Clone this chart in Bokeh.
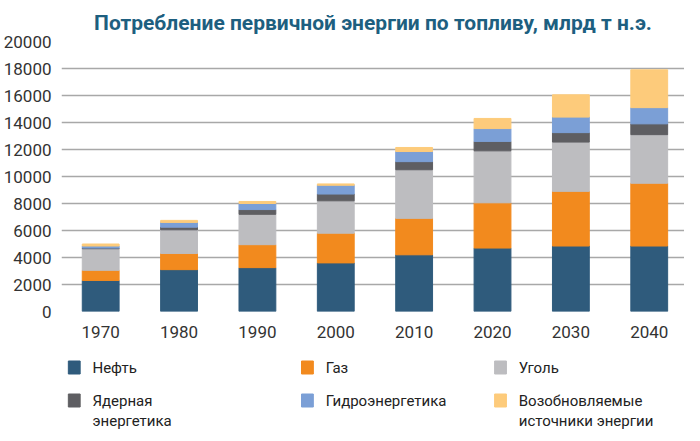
from bokeh.plotting import figure
from bokeh.models import Range1d, FixedTicker
from bokeh.layouts import column
from bokeh.core.properties import value
from bokeh.embed import file_html
from bokeh.resources import INLINE

years = ["1970", "1980", "1990", "2000", "2010", "2020", "2030", "2040"]
names = ["Нефть", "Газ", "Уголь", "Ядерная\nэнергетика", "Гидроэнергетика",
         "Возобновляемые\nисточники энергии"]
colors = ["#2f5b7c", "#f28a1e", "#bdbdc0", "#5e5e62", "#7b9fd6", "#fdcb7b"]

oil =     [2300, 3100, 3250, 3600, 4200, 4700, 4850, 4850]
gas =     [750, 1200, 1700, 2200, 2700, 3350, 4050, 4650]
coal =    [1600, 1750, 2250, 2400, 3600, 3850, 3650, 3600]
nuclear = [50, 200, 350, 500, 600, 700, 700, 800]
hydro =   [150, 350, 450, 650, 750, 950, 1150, 1200]
renew =   [150, 150, 150, 100, 300, 750, 1650, 2800]
series = [oil, gas, coal, nuclear, hydro, renew]

FONT = "Roboto"

p = figure(width=684, height=345, x_range=Range1d(-0.5, 7.45), y_range=Range1d(0, 20000),
           output_backend="svg", toolbar_location=None, tools="",
           min_border_left=47, min_border_right=0, min_border_top=41, min_border_bottom=34)
p.title.text = "Потребление первичной энергии по топливу, млрд т н.э."
p.title.text_font = FONT
p.title.text_font_size = "21px"
p.title.text_color = "#1d5f80"
p.title.align = "center"
p.title.standoff = 14
p.outline_line_color = None

xs = list(range(len(years)))
bottom = [0] * len(years)
for vals, c in zip(series, colors):
    top = [b + v for b, v in zip(bottom, vals)]
    p.vbar(x=xs, bottom=bottom, top=top, width=0.47, color=c)
    bottom = top

p.xgrid.grid_line_color = None
p.ygrid.grid_line_color = "#a8a8a8"
p.ygrid.grid_line_width = 1.5
p.yaxis.ticker = FixedTicker(ticks=list(range(0, 20001, 2000)))
p.xaxis.ticker = xs
p.xaxis.major_label_overrides = {i: y for i, y in enumerate(years)}
for ax in (p.xaxis[0], p.yaxis[0]):
    ax.axis_line_color = None
    ax.major_tick_line_color = None
    ax.minor_tick_line_color = None
    ax.major_label_text_font = FONT
    ax.major_label_text_font_size = "17px"
    ax.major_label_text_color = "#333333"
p.yaxis.major_label_standoff = 4
p.xaxis.major_label_standoff = 8

# legend drawn in page-pixel coordinates
lg = figure(width=684, height=85, x_range=Range1d(8, 692), y_range=Range1d(438, 353),
            output_backend="svg", toolbar_location=None, tools="",
            min_border=0)
lg.axis.visible = False
lg.grid.visible = False
lg.outline_line_color = None
col_x = [22, 278, 490]
row_y = [375, 408]
sq_x, sq_y, tx, ty = [], [], [], []
for i, n in enumerate(names):
    cx, ry = col_x[i % 3], row_y[i // 3]
    sq_x.append(cx)
    sq_y.append(ry)
    tx.append(cx + 20)
    ty.append(ry - 9)
lg.rect(x=sq_x, y=sq_y, width=13, height=13, color=colors)
lg.text(x=tx, y=ty, text=names, text_font=value(FONT), text_font_size="15px",
        text_color="#222222", text_baseline="top", text_line_height=1.15)

open("out.html", "w").write(file_html(column(p, lg, spacing=0), INLINE))
